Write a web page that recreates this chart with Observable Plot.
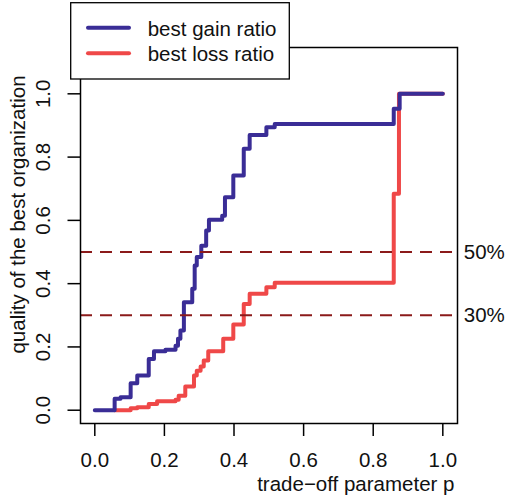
<!DOCTYPE html>
<html>
<head>
<meta charset="utf-8">
<script src="https://cdn.jsdelivr.net/npm/d3@7"></script>
<script src="https://cdn.jsdelivr.net/npm/@observablehq/plot@0.6"></script>
<style>
  html, body { margin: 0; padding: 0; background: #fff; }
  #chart { position: relative; width: 505px; height: 496px; }
</style>
</head>
<body>
<div id="chart"></div>
<script>
// trade-off parameter p and quality values (step functions)
const pGain = [0, 0.057, 0.074, 0.103, 0.122, 0.155, 0.170, 0.203, 0.232, 0.239, 0.246, 0.256, 0.280, 0.287, 0.293, 0.306, 0.320, 0.328, 0.366, 0.374, 0.398, 0.428, 0.445, 0.493, 0.517, 0.859, 0.876, 1.0];
const qGain = [0, 0.036, 0.041, 0.085, 0.110, 0.162, 0.186, 0.191, 0.204, 0.226, 0.252, 0.341, 0.384, 0.457, 0.484, 0.520, 0.568, 0.602, 0.615, 0.673, 0.742, 0.826, 0.870, 0.894, 0.905, 0.953, 1.0, 1.0];
const pLoss = [0.057, 0.103, 0.122, 0.155, 0.179, 0.232, 0.241, 0.260, 0.285, 0.293, 0.304, 0.313, 0.326, 0.369, 0.398, 0.428, 0.445, 0.493, 0.517, 0.859, 0.874, 1.0];
const qLoss = [0, 0.006, 0.009, 0.020, 0.028, 0.033, 0.046, 0.075, 0.110, 0.125, 0.138, 0.157, 0.186, 0.226, 0.271, 0.336, 0.368, 0.389, 0.403, 0.684, 1.0, 1.0];
const seriesNames = ["best gain ratio", "best loss ratio"];
const refLevels = [0.5, 0.3];
const refLabels = ["50%", "30%"];
const xTicks = [0, 0.2, 0.4, 0.6, 0.8, 1.0];
const yTicks = [0, 0.2, 0.4, 0.6, 0.8, 1.0];
const xTitle = "trade\u2212off parameter p";
const yTitle = "quality of the best organization";

const BLUE = "#3a2d96", RED = "#ef4848", DASH = "#8b1a1a";
const FONT = "'Liberation Sans', Arial, Helvetica, sans-serif";

const gain = pGain.map((p, i) => ({p, q: qGain[i]}));
const loss = pLoss.map((p, i) => ({p, q: qLoss[i]}));
const fmt = d3.format(".1f");

const chart = Plot.plot({
  width: 505,
  height: 496,
  marginLeft: 80,
  marginRight: 48,
  marginTop: 47,
  marginBottom: 73,
  style: {fontFamily: FONT, fontSize: "20.5px", color: "black", background: "white"},
  x: {domain: [-0.0411, 1.0422]},
  y: {domain: [-0.042, 1.1464]},
  marks: [
    Plot.axisX({ticks: xTicks, tickSize: 13, tickPadding: 16, tickFormat: fmt, strokeWidth: 1.5, label: null, fill: "#111"}),
    Plot.axisY({ticks: yTicks, tickSize: 12.5, tickFormat: () => "", strokeWidth: 1.5, label: null}),
    Plot.text(yTicks, {y: d => d, text: d => fmt(d), frameAnchor: "left", rotate: -90, dx: -36.6, textAnchor: "middle", lineAnchor: "middle", fill: "#111"}),
    Plot.line(loss, {x: "p", y: "q", curve: "step-after", stroke: RED, strokeWidth: 4, strokeLinecap: "round", strokeLinejoin: "round"}),
    Plot.line(gain, {x: "p", y: "q", curve: "step-after", stroke: BLUE, strokeWidth: 4, strokeLinecap: "round", strokeLinejoin: "round"}),
    Plot.ruleY(refLevels, {stroke: DASH, strokeWidth: 2, strokeDasharray: "12,8"}),
    Plot.text(refLevels, {y: d => d, text: (d, i) => refLabels[i], frameAnchor: "right", dx: 6.3, textAnchor: "start", lineAnchor: "middle", fill: "#111"}),
    Plot.frame({stroke: "black", strokeWidth: 1.5}),
    Plot.text([xTitle], {frameAnchor: "bottom-right", textAnchor: "end", lineAnchor: "middle", dx: -3, dy: 60.9, fill: "#111"}),
    Plot.text([yTitle], {frameAnchor: "left", rotate: -90, textAnchor: "middle", lineAnchor: "middle", dx: -61.6, dy: -21, fill: "#111"})
  ]
});

document.getElementById("chart").appendChild(chart);

// legend overlay (drawn on top, white filled box as in the original)
const svg = d3.select(chart);
const lg = svg.append("g").attr("font-family", FONT).attr("font-size", "20.5px").attr("text-anchor", "start");
lg.append("rect").attr("x", 70.7).attr("y", 2.7).attr("width", 218.6).attr("height", 76.3)
  .attr("fill", "white").attr("stroke", "black").attr("stroke-width", 1.3);
[BLUE, RED].forEach((c, i) => {
  const y = 27.7 + i * 25.6;
  lg.append("line").attr("x1", 88).attr("x2", 129).attr("y1", y).attr("y2", y)
    .attr("stroke", c).attr("stroke-width", 4).attr("stroke-linecap", "round");
  lg.append("text").attr("x", 147.7).attr("y", 35.7 + i * 25.3).attr("fill", "#111")
    .attr("text-anchor", "start").text(seriesNames[i]);
});
</script>
</body>
</html>
